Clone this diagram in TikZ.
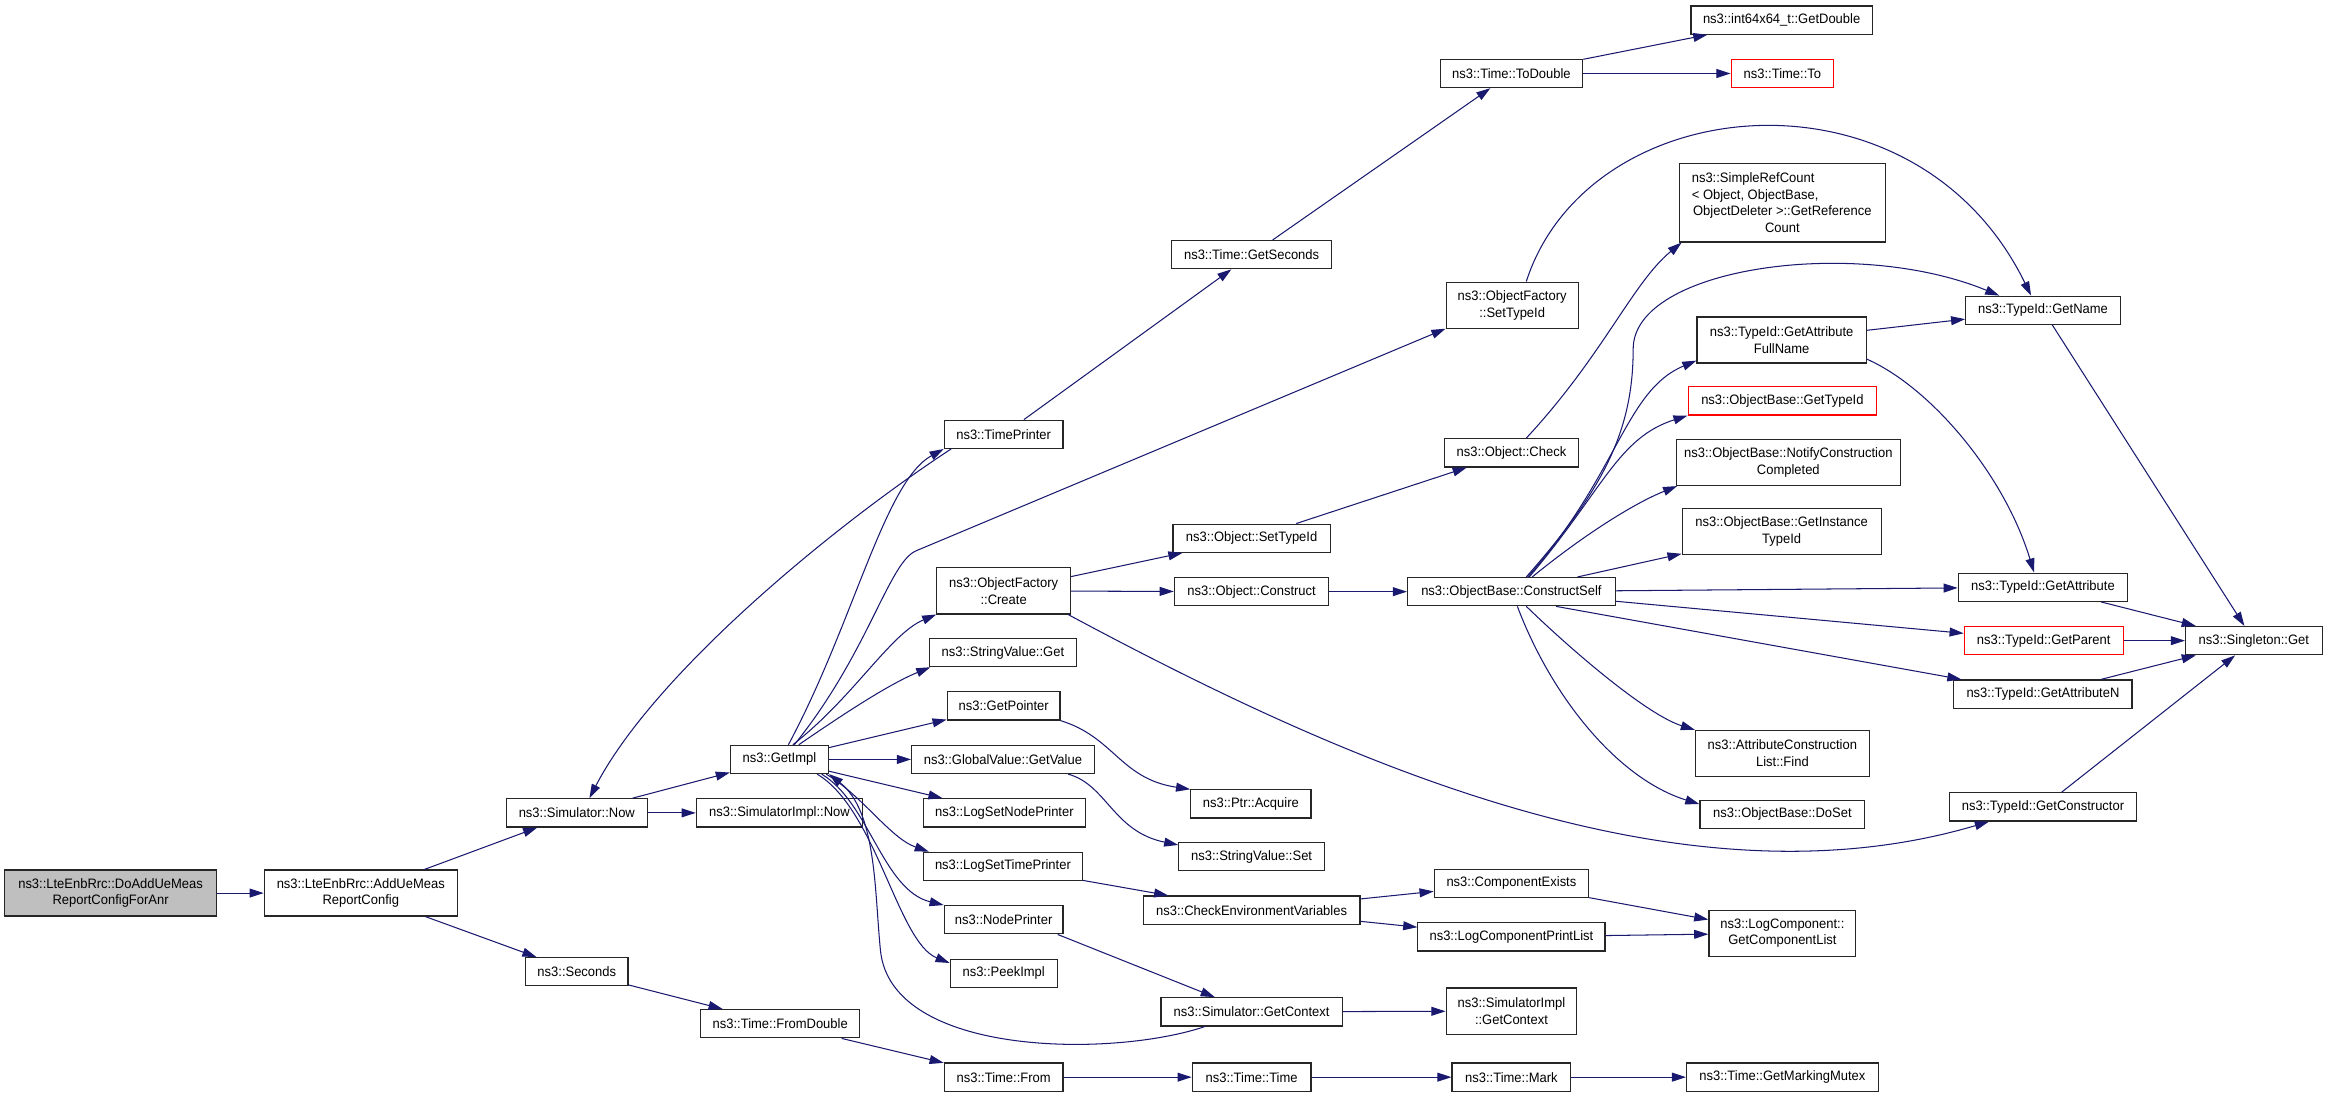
\documentclass[tikz,border=0pt]{standalone}
\usepackage{fontspec}
\setmainfont{Liberation Sans}[FakeStretch=0.95]
\usetikzlibrary{arrows.meta}
\definecolor{edgeblue}{HTML}{191970}
\definecolor{rootgray}{HTML}{BFBFBF}

\begin{document}
\begin{tikzpicture}[x=1pt,y=-1pt,
  fn/.style={draw=black!85, line width=0.8pt, fill=white, inner sep=0pt,
    minimum height=19pt, align=center, font=\fontsize{9.2}{11.3}\selectfont},
  fntwo/.style={fn, minimum height=31pt},
  trunc/.style={draw=red},
  call/.style={edgeblue, line width=0.7pt, -{Triangle[length=9.5pt,width=6pt]}}]
\fill[white] (0,0) rectangle (1568,738.9);
\useasboundingbox (0,0) rectangle (1568,738.9);

% left part
\node[fntwo, fill=rootgray, minimum width=143pt] (doadd) at (74.5,601.5) {ns3::LteEnbRrc::DoAddUeMeas\\ReportConfigForAnr};
\node[fntwo, minimum width=130pt] (addue) at (243,601.5) {ns3::LteEnbRrc::AddUeMeas\\ReportConfig};
\node[fn, minimum width=95pt] (simnow) at (388.5,547.5) {ns3::Simulator::Now};
\node[fn, minimum width=69pt] (seconds) at (388.5,654.5) {ns3::Seconds};
\node[fn, minimum width=112pt] (simimplnow) at (525,547.5) {ns3::SimulatorImpl::Now};
\node[fn, minimum width=66pt] (getimpl) at (525,511.5) {ns3::GetImpl};
\node[fn, minimum width=107pt] (fromdouble) at (525.5,689.5) {ns3::Time::FromDouble};

% column of GetImpl callees
\node[fn, minimum width=80pt] (timeprinter) at (676,292.5) {ns3::TimePrinter};
\node[fntwo, minimum width=90pt] (ofcreate) at (676,398) {ns3::ObjectFactory\\::Create};
\node[fn, minimum width=99pt] (svget) at (675.5,439.5) {ns3::StringValue::Get};
\node[fn, minimum width=76pt] (getpointer) at (676,475.5) {ns3::GetPointer};
\node[fn, minimum width=123pt] (gvgetvalue) at (675.5,511.5) {ns3::GlobalValue::GetValue};
\node[fn, minimum width=109pt] (logsetnode) at (676.5,547.5) {ns3::LogSetNodePrinter};
\node[fn, minimum width=107pt] (logsettime) at (675.5,583.5) {ns3::LogSetTimePrinter};
\node[fn, minimum width=80pt] (nodeprinter) at (676,619.5) {ns3::NodePrinter};
\node[fn, minimum width=72pt] (peekimpl) at (676,655.5) {ns3::PeekImpl};
\node[fn, minimum width=80pt] (timefrom) at (676,725.5) {ns3::Time::From};

% middle column
\node[fn, minimum width=108pt] (getseconds) at (843,171.5) {ns3::Time::GetSeconds};
\node[fn, minimum width=106pt] (objsettypeid) at (843,362.5) {ns3::Object::SetTypeId};
\node[fn, minimum width=104pt] (objconstruct) at (843,398.5) {ns3::Object::Construct};
\node[fn, minimum width=81pt] (ptracquire) at (842.5,541.5) {ns3::Ptr::Acquire};
\node[fn, minimum width=98pt] (svset) at (843,577) {ns3::StringValue::Set};
\node[fn, minimum width=146pt] (checkenv) at (843,613) {ns3::CheckEnvironmentVariables};
\node[fn, minimum width=122pt] (simgetctx) at (843,681.5) {ns3::Simulator::GetContext};
\node[fn, minimum width=80pt] (timetime) at (843,725.5) {ns3::Time::Time};

\node[fn, minimum width=96pt] (todouble) at (1018,49.5) {ns3::Time::ToDouble};
\node[fntwo, minimum width=89pt] (ofsettypeid) at (1018.5,205.5) {ns3::ObjectFactory\\::SetTypeId};
\node[fn, minimum width=90pt] (objcheck) at (1018,305) {ns3::Object::Check};
\node[fn, minimum width=140pt] (constructself) at (1018,398.5) {ns3::ObjectBase::ConstructSelf};
\node[fn, minimum width=104pt] (compexists) at (1018,595) {ns3::ComponentExists};
\node[fn, minimum width=126pt] (logcompprint) at (1018,631) {ns3::LogComponentPrintList};
\node[fntwo, minimum width=88pt] (simimplgetctx) at (1018,681) {ns3::SimulatorImpl\\::GetContext};
\node[fn, minimum width=80pt] (timemark) at (1018,725.5) {ns3::Time::Mark};

% right columns
\node[fn, minimum width=122pt] (getdouble) at (1200,13.5) {ns3::int64x64\_t::GetDouble};
\node[fn, trunc, minimum width=69pt] (timeto) at (1200.5,49.5) {ns3::Time::To};
\node[fn, minimum width=139pt, minimum height=53pt] (simplerefcount) at (1200.5,136.5)
  {\makebox[122pt][l]{ns3::SimpleRefCount}\\\makebox[122pt][l]{< Object, ObjectBase,}\\ObjectDeleter >::GetReference\\Count};
\node[fntwo, minimum width=114pt] (getattrfullname) at (1200,229) {ns3::TypeId::GetAttribute\\FullName};
\node[fn, trunc, minimum width=127pt] (obgettypeid) at (1200.5,270) {ns3::ObjectBase::GetTypeId};
\node[fntwo, minimum width=151pt] (notifyconstr) at (1204.5,311.5) {ns3::ObjectBase::NotifyConstruction\\Completed};
\node[fntwo, minimum width=134pt] (getinstancetypeid) at (1200,358) {ns3::ObjectBase::GetInstance\\TypeId};
\node[fntwo, minimum width=117pt] (attrconstrfind) at (1200.5,507.5) {ns3::AttributeConstruction\\List::Find};
\node[fn, minimum width=111pt] (doset) at (1200.5,548.5) {ns3::ObjectBase::DoSet};
\node[fntwo, minimum width=99pt] (getcomplist) at (1200.5,628.5) {ns3::LogComponent::\\GetComponentList};
\node[fn, minimum width=129pt] (markingmutex) at (1200.5,725.5) {ns3::Time::GetMarkingMutex};

\node[fn, minimum width=104pt] (getname) at (1376,209) {ns3::TypeId::GetName};
\node[fn, minimum width=114pt] (getattribute) at (1376,395.5) {ns3::TypeId::GetAttribute};
\node[fn, trunc, minimum width=107pt] (getparent) at (1376.5,431.5) {ns3::TypeId::GetParent};
\node[fn, minimum width=120pt] (getattributen) at (1376,467.5) {ns3::TypeId::GetAttributeN};
\node[fn, minimum width=126pt] (getconstructor) at (1376,543.5) {ns3::TypeId::GetConstructor};
\node[fn, minimum width=92pt] (singletonget) at (1518,431.5) {ns3::Singleton::Get};

% calls
\draw[call] (doadd) -- (addue);
\draw[call] (addue) -- (simnow);
\draw[call] (addue) -- (seconds);
\draw[call] (simnow) -- (getimpl);
\draw[call] (simnow) -- (simimplnow);
\draw[call] ([xshift=5pt]timeprinter.south west) .. controls +(-81,53) and +(43,-83) .. ([xshift=8.5pt]simnow.north);
\draw[call] ([xshift=6pt]getimpl.north) .. controls +(44,-82) and +(-40,22) .. (timeprinter.south west);
\draw[call] (timeprinter) -- (getseconds);
\draw[call] (getseconds) -- (todouble);
\draw[call] (todouble) -- (getdouble);
\draw[call] (todouble) -- (timeto);

\draw[call] ([xshift=10pt]getimpl.north) .. controls +(50,-62) and +(-18.4,7.7) .. (617,371) -- (ofsettypeid.south west);
\draw[call] ([xshift=9pt]getimpl.north) .. controls +(41,-32) and +(-31,13) .. (ofcreate.south west);
\draw[call] ([xshift=13pt]getimpl.north) .. controls +(32,-22) and +(-27,11) .. ([xshift=1pt]svget.south west);
\draw[call] (getimpl) -- (getpointer);
\draw[call] (getimpl) -- (gvgetvalue);
\draw[call] (getimpl) -- (logsetnode);
\draw[call] ([xshift=-2pt]getimpl.south east) .. controls +(24,14) and +(-26,-9) .. ([xshift=4pt]logsettime.north west);
\draw[call] ([xshift=-5pt]getimpl.south east) .. controls +(32,19) and +(-41,-10) .. (nodeprinter.north west);
\draw[call] ([xshift=-8pt]getimpl.south east) .. controls +(40,24) and +(-35,-14) .. ([yshift=-3pt]peekimpl.north west);
\draw[call] ([xshift=30pt]simgetctx.south west) .. controls +(-62,21) and +(7,72) .. (593,640)
  .. controls +(-4,-40) and +(32,25) .. (getimpl.south east);
\draw[call] ([xshift=-4pt]nodeprinter.south east) -- (simgetctx);
\draw[call] (simgetctx) -- (simimplgetctx);

\draw[call] (getpointer.south east) .. controls +(36,11) and +(-47,-7) .. (ptracquire.north west);
\draw[call] ([xshift=-18pt]gvgetvalue.south east) .. controls +(26,7) and +(-44,-9) .. ([yshift=-2pt]svset.north west);
\draw[call] (logsettime) -- (checkenv);
\draw[call] (checkenv) -- (compexists);
\draw[call] (checkenv) -- (logcompprint);
\draw[call] (compexists) -- (getcomplist);
\draw[call] (logcompprint) -- (getcomplist);

\draw[call] (seconds) -- (fromdouble);
\draw[call] (fromdouble) -- (timefrom);
\draw[call] (timefrom) -- (timetime);
\draw[call] (timetime) -- (timemark);
\draw[call] (timemark) -- (markingmutex);

\draw[call] (ofcreate) -- (objsettypeid);
\draw[call] (ofcreate) -- (objconstruct);
\draw[call] ([xshift=-2pt]ofcreate.south east) .. controls +(181,97) and +(-210,62) .. ([xshift=27pt]getconstructor.south west);
\draw[call] (objsettypeid) -- (objcheck);
\draw[call] ([xshift=10pt]objcheck.north) .. controls +(52,-56) and +(-33,27) .. ([xshift=2pt]simplerefcount.south west);
\draw[call] (objconstruct) -- (constructself);
\draw[call] ([xshift=9.5pt]ofsettypeid.north) .. controls +(42,-130) and +(-78,-160) .. ([xshift=-8pt]getname.north);

% ConstructSelf fan
\draw[call] ([xshift=10pt]constructself.north) .. controls +(52,-59) and +(0,55) .. (1100,235)
  .. controls +(0,-55) and +(-97,-40) .. ([xshift=23pt]getname.north west);
\draw[call] ([xshift=11pt]constructself.north) .. controls +(61,-69) and +(-48,20) .. ([yshift=2pt]getattrfullname.south west);
\draw[call] ([xshift=12pt]constructself.north) .. controls +(50,-59) and +(-47,15) .. (obgettypeid.south west);
\draw[call] ([xshift=14pt]constructself.north) .. controls +(33,-27) and +(-30,12) .. ([xshift=1pt]notifyconstr.south west);
\draw[call] (constructself) -- (getinstancetypeid);
\draw[call] (constructself) -- (getattribute);
\draw[call] (constructself) -- (getparent);
\draw[call] ([xshift=30pt]constructself.south) -- (getattributen);
\draw[call] ([xshift=10pt]constructself.south) .. controls +(32,31) and +(-32,-10) .. (attrconstrfind.north west);
\draw[call] ([xshift=4pt]constructself.south) .. controls +(23,61) and +(-55,-17) .. ([yshift=-3pt]doset.north west);

\draw[call] (getattrfullname) -- (getname);
\draw[call] ([yshift=3pt]getattrfullname.south east) .. controls +(43,19) and +(-20,-66) .. ([xshift=-6pt]getattribute.north);
\draw[call] (getname) -- (singletonget);
\draw[call] (getattribute) -- (singletonget);
\draw[call] (getparent) -- (singletonget);
\draw[call] (getattributen) -- (singletonget);
\draw[call] (getconstructor) -- (singletonget);

\end{tikzpicture}
\end{document}
